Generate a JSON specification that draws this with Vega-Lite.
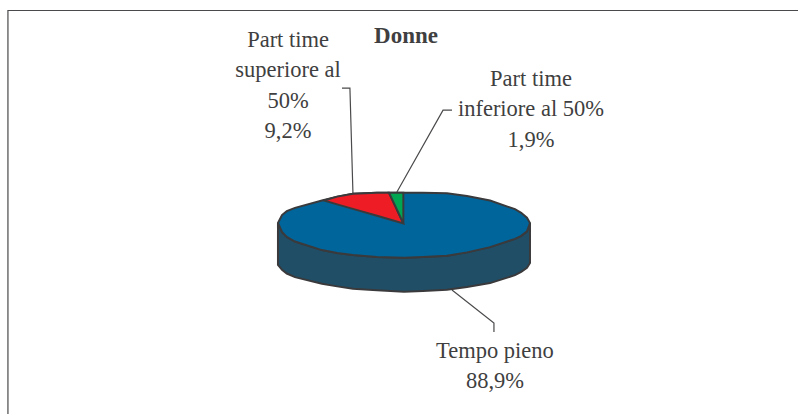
{
  "$schema": "https://vega.github.io/schema/vega-lite/v6.json",
  "width": 798,
  "height": 414,
  "padding": 0,
  "autosize": "none",
  "background": "white",
  "view": {"stroke": null},
  "datasets": {
    "shapes": [
      {"part": "wall", "u": -1, "top": 0.06, "low": -1.21},
      {"part": "wall", "u": -0.968, "top": -0.21, "low": -1.36},
      {"part": "wall", "u": -0.93, "top": -0.36, "low": -1.47},
      {"part": "wall", "u": -0.865, "top": -0.5, "low": -1.58},
      {"part": "wall", "u": -0.651, "top": -0.76, "low": -1.78},
      {"part": "wall", "u": -0.53, "top": -0.85, "low": -1.86},
      {"part": "wall", "u": -0.405, "top": -0.91, "low": -1.93},
      {"part": "wall", "u": -0.214, "top": -0.97, "low": -1.98},
      {"part": "wall", "u": 0, "top": -0.99, "low": -2.02},
      {"part": "wall", "u": 0.15, "top": -0.97, "low": -2.0},
      {"part": "wall", "u": 0.341, "top": -0.93, "low": -1.96},
      {"part": "wall", "u": 0.5, "top": -0.83, "low": -1.88},
      {"part": "wall", "u": 0.683, "top": -0.67, "low": -1.76},
      {"part": "wall", "u": 0.881, "top": -0.42, "low": -1.52},
      {"part": "wall", "u": 0.93, "top": -0.33, "low": -1.42},
      {"part": "wall", "u": 0.976, "top": -0.19, "low": -1.3},
      {"part": "wall", "u": 1, "top": 0.06, "low": -1.15},
      {"part": "Tempo pieno", "u": -1, "top": 0.06, "low": 0.06},
      {"part": "Tempo pieno", "u": -0.968, "top": 0.3, "low": -0.21},
      {"part": "Tempo pieno", "u": -0.93, "top": 0.42, "low": -0.36},
      {"part": "Tempo pieno", "u": -0.865, "top": 0.52, "low": -0.5},
      {"part": "Tempo pieno", "u": -0.651, "top": 0.74, "low": -0.76},
      {"part": "Tempo pieno", "u": -0.53, "top": 0.86, "low": -0.85},
      {"part": "Tempo pieno", "u": -0.405, "top": 0.95, "low": -0.91},
      {"part": "Tempo pieno", "u": -0.214, "top": 0.98, "low": -0.97},
      {"part": "Tempo pieno", "u": 0, "top": 0.98, "low": -0.99},
      {"part": "Tempo pieno", "u": 0.15, "top": 0.98, "low": -0.97},
      {"part": "Tempo pieno", "u": 0.341, "top": 0.96, "low": -0.93},
      {"part": "Tempo pieno", "u": 0.5, "top": 0.88, "low": -0.83},
      {"part": "Tempo pieno", "u": 0.683, "top": 0.74, "low": -0.67},
      {"part": "Tempo pieno", "u": 0.881, "top": 0.48, "low": -0.42},
      {"part": "Tempo pieno", "u": 0.93, "top": 0.37, "low": -0.33},
      {"part": "Tempo pieno", "u": 0.976, "top": 0.22, "low": -0.19},
      {"part": "Tempo pieno", "u": 1, "top": 0.06, "low": 0.06},
      {"part": "Superiore", "u": -0.635, "top": 0.74, "low": 0.74},
      {"part": "Superiore", "u": -0.53, "top": 0.86, "low": 0.625},
      {"part": "Superiore", "u": -0.405, "top": 0.95, "low": 0.488},
      {"part": "Superiore", "u": -0.214, "top": 0.98, "low": 0.279},
      {"part": "Superiore", "u": -0.119, "top": 0.98, "low": 0.175},
      {"part": "Superiore", "u": -0.005, "top": 0.05, "low": 0.05},
      {"part": "Inferiore", "u": -0.119, "top": 0.98, "low": 0.98},
      {"part": "Inferiore", "u": -0.005, "top": 0.98, "low": 0.05}
    ],
    "paths": [
      {"path": "frame", "n": 1, "u": 3.127, "v": 6.5},
      {"path": "frame", "n": 2, "u": -3.143, "v": 6.5},
      {"path": "frame", "n": 3, "u": -3.143, "v": -5.727},
      {"path": "Superiore", "n": 1, "u": -0.492, "v": 4.15},
      {"path": "Superiore", "n": 2, "u": -0.429, "v": 4.15},
      {"path": "Superiore", "n": 3, "u": -0.405, "v": 0.97},
      {"path": "Inferiore", "n": 1, "u": 0.381, "v": 3.48},
      {"path": "Inferiore", "n": 2, "u": 0.31, "v": 3.48},
      {"path": "Inferiore", "n": 3, "u": -0.056, "v": 1.0},
      {"path": "Tempo pieno", "n": 1, "u": 0.381, "v": -1.97},
      {"path": "Tempo pieno", "n": 2, "u": 0.714, "v": -2.97},
      {"path": "Tempo pieno", "n": 3, "u": 0.714, "v": -3.24}
    ],
    "labels": [
      {"slice": "Part time superiore al 50%", "share": 9.2, "label": "Part time\nsuperiore al\n50%\n9,2%", "u": -0.92, "v": 5.606},
      {"slice": "Part time inferiore al 50%", "share": 1.9, "label": "Part time\ninferiore al 50%\n1,9%", "u": 1.008, "v": 4.424},
      {"slice": "Tempo pieno", "share": 88.9, "label": "Tempo pieno\n88,9%", "u": 0.722, "v": -3.818}
    ],
    "title": [{"label": "Donne", "u": 0.016, "v": 5.73}]
  },
  "encoding": {
    "x": {"field": "u", "type": "quantitative", "axis": null, "scale": {"domain": [-3.206, 3.127], "nice": false, "zero": false}},
    "y": {"type": "quantitative", "axis": null, "scale": {"domain": [-5.727, 6.818], "nice": false, "zero": false}}
  },
  "layer": [
    {
      "data": {"name": "paths"},
      "mark": {"type": "line", "color": "#4a4a4c", "strokeWidth": 1.2},
      "encoding": {"y": {"field": "v", "type": "quantitative"}, "detail": {"field": "path"}, "order": {"field": "n"}}
    },
    {
      "data": {"name": "shapes"},
      "transform": [{"filter": "datum.part === 'wall'"}],
      "mark": {"type": "area", "color": "#1f4e66", "stroke": "#3a3a3c", "strokeWidth": 2},
      "encoding": {"y": {"field": "top", "type": "quantitative"}, "y2": {"field": "low"}}
    },
    {
      "data": {"name": "shapes"},
      "transform": [{"filter": "datum.part === 'Tempo pieno'"}],
      "mark": {"type": "area", "color": "#00659b", "stroke": "#3a3a3c", "strokeWidth": 2},
      "encoding": {"y": {"field": "top", "type": "quantitative"}, "y2": {"field": "low"}}
    },
    {
      "data": {"name": "shapes"},
      "transform": [{"filter": "datum.part === 'Superiore'"}],
      "mark": {"type": "area", "color": "#ee1c25", "stroke": "#3a3a3c", "strokeWidth": 2},
      "encoding": {"y": {"field": "top", "type": "quantitative"}, "y2": {"field": "low"}}
    },
    {
      "data": {"name": "shapes"},
      "transform": [{"filter": "datum.part === 'Inferiore'"}],
      "mark": {"type": "area", "color": "#00a651", "stroke": "#3a3a3c", "strokeWidth": 2},
      "encoding": {"y": {"field": "top", "type": "quantitative"}, "y2": {"field": "low"}}
    },
    {
      "data": {"name": "labels"},
      "mark": {"type": "text", "font": "Liberation Serif", "fontSize": 22.5, "lineHeight": 30.4, "lineBreak": "\n", "align": "center", "baseline": "middle", "color": "#3f3f41"},
      "encoding": {"y": {"field": "v", "type": "quantitative"}, "text": {"field": "label"}}
    },
    {
      "data": {"name": "title"},
      "mark": {"type": "text", "font": "Liberation Serif", "fontSize": 23, "fontWeight": "bold", "align": "center", "baseline": "middle", "color": "#3f3f41"},
      "encoding": {"y": {"field": "v", "type": "quantitative"}, "text": {"field": "label"}}
    }
  ]
}
